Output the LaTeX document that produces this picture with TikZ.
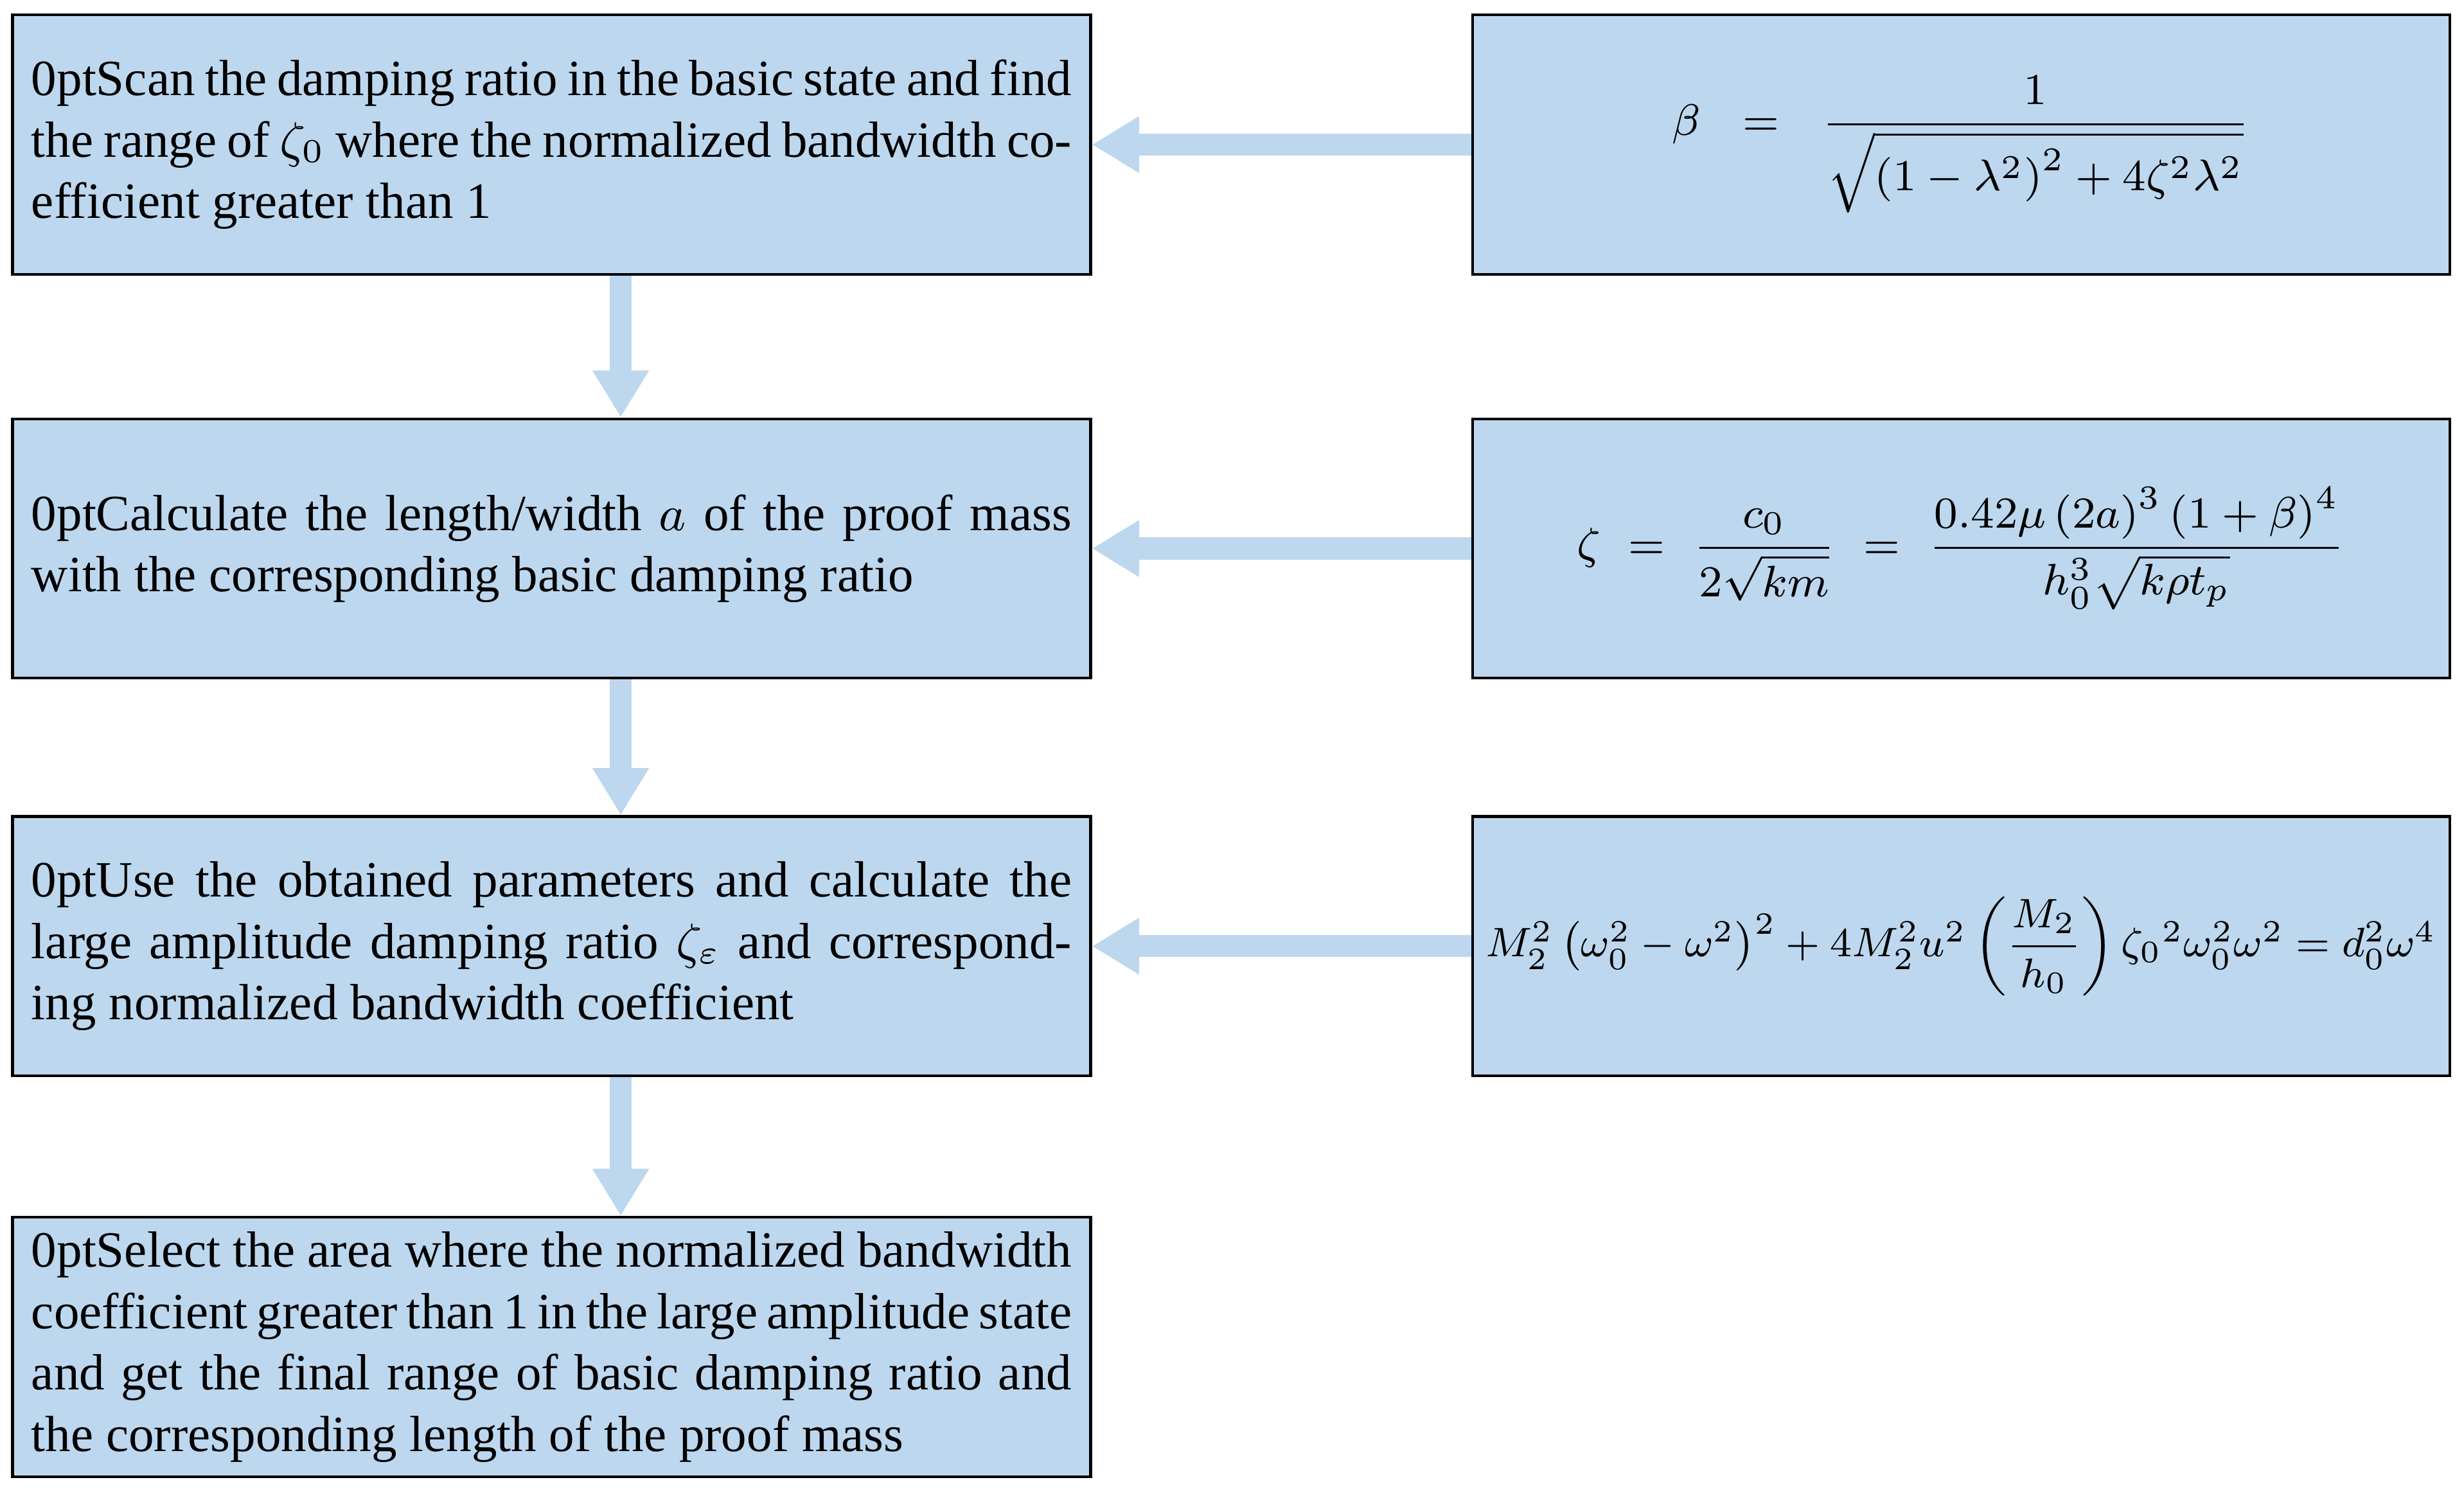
\documentclass[tikz,border=0pt]{standalone}
\usepackage{fontspec}
\setmainfont{Liberation Serif}
\usepackage{amsmath}
\usetikzlibrary{arrows.meta}
\definecolor{boxblue}{RGB}{189,215,238}

\begin{document}
\begin{tikzpicture}[x=0.1mm, y=-0.1mm,
	stage/.style={draw=black, line width=0.5pt, fill=boxblue, rectangle, minimum width=68.6mm, minimum height=16.5mm,
		text width=66.2mm, align=justify, inner sep=0pt, font=\fontsize{9.2}{11.1}\selectfont\hyphenpenalty=10000},
	formula/.style={draw=black, line width=0.5pt, fill=boxblue, rectangle, minimum width=62.2mm, minimum height=16.5mm,
		text width=61.6mm, align=center, inner sep=0pt, font=\fontsize{8}{10}\selectfont},
	flow/.style={draw=boxblue, line width=1.4mm, -{Triangle[width=3.4mm,length=3mm]}}]

	\useasboundingbox (0,0) rectangle (1568,947);

	% left column
	\node [stage] (scan) at (351,92) {Scan the damping ratio in the basic state and find the range of $\zeta_0$ where the normalized bandwidth coefficient greater than 1};
	\node [stage] (calc) at (351,349) {Calculate the length/width $a$ of the proof mass with the corresponding basic damping ratio};
	\node [stage] (use) at (351,602) {Use the obtained parameters and calculate the large amplitude damping ratio $\zeta_\varepsilon$ and corresponding normalized bandwidth coefficient};
	\node [stage] (select) at (351,857) {Select the area where the normalized bandwidth coefficient greater than 1 in the large amplitude state and get the final range of basic damping ratio and the corresponding length of the proof mass};

	% right column
	\node [formula] (beta) at (1248,92) {$\beta=\dfrac{1}{\sqrt{\left(1-\lambda^2\right)^2+4\zeta^2\lambda^2}}$};
	\node [formula] (zeta) at (1248,349) {$\zeta=\dfrac{c_0}{2\sqrt{km}}=\dfrac{0.42\mu\left(2a\right)^3\left(1+\beta\right)^4}{h_0^3\sqrt{k\rho t_p}}$};
	\node [formula] (amp) at (1248,602) {\resizebox{60.5mm}{!}{$M_2^2\left(\omega_0^2-\omega^2\right)^2+4M_2^2u^2\left(\dfrac{M_2}{h_0}\right)\zeta_0{}^2\omega_0^2\omega^2=d_0^2\omega^4$}};

	% arrows
	\coordinate (col) at (395,0);
	\draw [flow] (scan.south -| col) -- (calc.north -| col);
	\draw [flow] (calc.south -| col) -- (use.north -| col);
	\draw [flow] (use.south -| col) -- (select.north -| col);
	\draw [flow] (beta) -- (scan);
	\draw [flow] (zeta) -- (calc);
	\draw [flow] (amp) -- (use);

\end{tikzpicture}
\end{document}
